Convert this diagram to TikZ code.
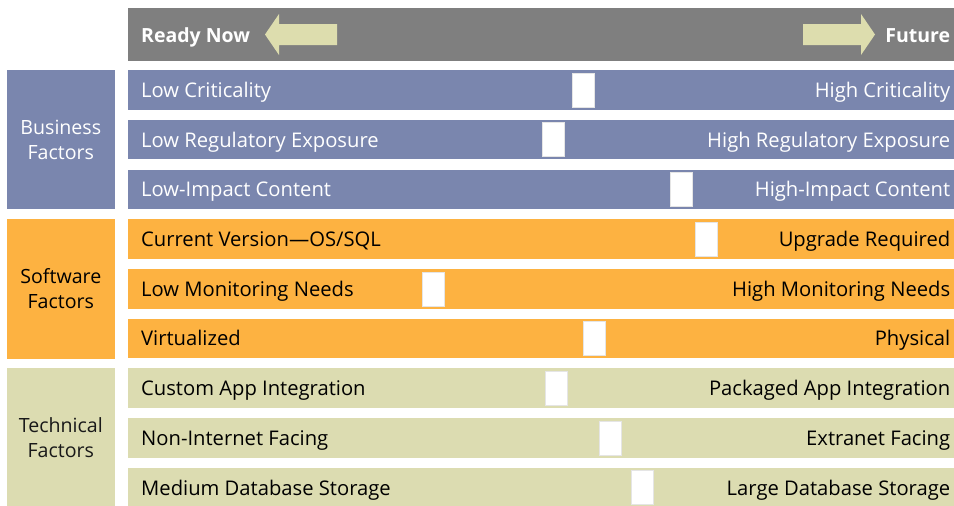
\documentclass[tikz,border=0pt]{standalone}
\usepackage{fontspec}
\setmainfont{Open Sans}
\usetikzlibrary{positioning}

\definecolor{headgrey}{HTML}{7F7F7F}
\definecolor{busblue}{HTML}{7A86AE}
\definecolor{softorange}{HTML}{FDB241}
\definecolor{techtan}{HTML}{DCDCB1}
\definecolor{arrowtan}{HTML}{DDDDAE}

\tikzset{
  bar/.style={anchor=north west, minimum width=826pt, minimum height=39.5pt, inner sep=0pt},
  side/.style={minimum width=108pt, minimum height=139.5pt, inner sep=0pt, align=center,
    font=\fontsize{19.6}{25}\selectfont},
  lbl/.style={inner sep=0pt, font=\fontsize{20.2}{24}\selectfont},
  slider/.style={fill=white, draw=white!80!gray, line width=0.4pt,
    minimum width=22pt, minimum height=34pt, inner sep=0pt},
}

\begin{document}
\begin{tikzpicture}[x=1pt,y=1pt]
\useasboundingbox (0,0) rectangle (954,-506);

% header
\node[bar, fill=headgrey, minimum height=53pt] (head) at (128,-8) {};
\node[lbl, anchor=base west, text=white, font=\fontsize{19.5}{24}\selectfont\bfseries]
  (ready) at ([xshift=13pt,yshift=-7.5pt]head.west) {Ready Now};
\node[lbl, anchor=base east, text=white, font=\fontsize{19.5}{24}\selectfont\bfseries]
  (future) at ([xshift=-4pt,yshift=-7.5pt]head.east) {Future};
\fill[arrowtan] (265,-34.5) -- (279,-14) -- (279,-24) -- (337,-24) -- (337,-45)
  -- (279,-45) -- (279,-55) -- cycle;
\fill[arrowtan] (875,-34.5) -- (861,-14) -- (861,-24) -- (803,-24) -- (803,-45)
  -- (861,-45) -- (861,-55) -- cycle;

% factor rows
\foreach \i/\lo/\hi/\mk/\col/\txt in {
  1/Low Criticality/High Criticality/583/busblue/white,
  2/Low Regulatory Exposure/High Regulatory Exposure/553/busblue/white,
  3/Low-Impact Content/High-Impact Content/681/busblue/white,
  4/{Current Version—OS/SQL}/Upgrade Required/706.5/softorange/black,
  5/Low Monitoring Needs/High Monitoring Needs/433/softorange/black,
  6/Virtualized/Physical/594/softorange/black,
  7/Custom App Integration/Packaged App Integration/556/techtan/black,
  8/Non-Internet Facing/Extranet Facing/610/techtan/black,
  9/Medium Database Storage/Large Database Storage/642.5/techtan/black}{
  \node[bar, fill=\col] (r\i) at (128,{-70-49.7*(\i-1)}) {};
  \node[lbl, anchor=base west, text=\txt] (r\i-lo) at ([xshift=13pt,yshift=-7.5pt]r\i.west) {\lo};
  \node[lbl, anchor=base east, text=\txt] (r\i-hi) at ([xshift=-4pt,yshift=-7.5pt]r\i.east) {\hi};
  \node[slider] (m\i) at ([xshift=\mk-128]r\i.west) {};
}

% factor groups
\node[side, fill=busblue, text=white, left=13pt of r2] (bus) {Business\\Factors};
\node[side, fill=softorange, text=black, left=13pt of r5] (soft) {Software\\Factors};
\node[side, fill=techtan, text=black!90, left=13pt of r8] (tech) {Technical\\Factors};
\end{tikzpicture}
\end{document}
